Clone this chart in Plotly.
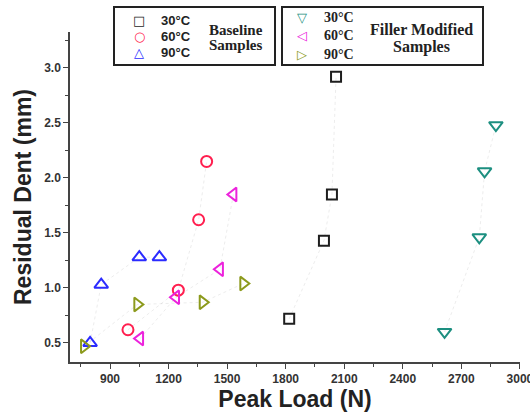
import plotly.graph_objects as go

# ---- data ----
base30_x = [1818, 1996, 2037, 2058]
base30_y = [0.72, 1.43, 1.85, 2.92]
base60_x = [992, 1250, 1354, 1395]
base60_y = [0.62, 0.98, 1.62, 2.15]
base90_x = [798, 855, 1050, 1153]
base90_y = [0.50, 1.03, 1.28, 1.28]
fill30_x = [2614, 2792, 2819, 2877]
fill30_y = [0.60, 1.46, 2.06, 2.48]
fill60_x = [1054, 1238, 1463, 1532]
fill60_y = [0.54, 0.915, 1.17, 1.85]
fill90_x = [767, 1040, 1375, 1583]
fill90_y = [0.47, 0.85, 0.87, 1.04]

x_ticks = [900, 1200, 1500, 1800, 2100, 2400, 2700, 3000]
y_ticks = [0.5, 1.0, 1.5, 2.0, 2.5, 3.0]

series = [
    (base30_x, base30_y, "square-open", "#1e1e1e", 10),
    (base60_x, base60_y, "circle-open", "#ff1f4f", 11),
    (base90_x, base90_y, "triangle-up-open", "#2b2bff", 12),
    (fill30_x, fill30_y, "triangle-down-open", "#1c8f80", 12),
    (fill60_x, fill60_y, "triangle-left-open", "#ec22dc", 12),
    (fill90_x, fill90_y, "triangle-right-open", "#8c9a1c", 12),
]

fig = go.Figure()
for xs, ys, sym, col, sz in series:
    fig.add_trace(go.Scatter(x=xs, y=ys, mode="lines",
                             line=dict(color="rgba(170,170,170,0.22)", width=1, dash="dot"),
                             hoverinfo="skip"))
for xs, ys, sym, col, sz in series:
    fig.add_trace(go.Scatter(x=xs, y=ys, mode="markers",
                             marker=dict(symbol=sym, size=sz, color=col,
                                         line=dict(color=col, width=2))))

L, R, T, B = 70, 10, 32, 58
W, H = 530, 420
PW, PH = W - L - R, H - T - B

def px(x):
    return (x - L) / PW

def py(y):
    return (H - B - y) / PH

# legend boxes
for x0, x1 in [(114, 275), (282, 483)]:
    fig.add_shape(type="rect", xref="paper", yref="paper",
                  x0=px(x0), x1=px(x1), y0=py(65), y1=py(7),
                  line=dict(color="#222", width=2), fillcolor="white", layer="above")

ann = []
sans = "Liberation Sans, Arial"
serif = "Liberation Serif, Times New Roman"
sym_font = "DejaVu Sans"
labels = ["30°C", "60°C", "90°C"]
# box 1
rows1 = [21, 37, 53]
glyphs1 = [("\u25a1", "#1e1e1e"), ("\u25cb", "#ff1f4f"), ("\u25b3", "#2b2bff")]
for i, ((g, c), yy) in enumerate(zip(glyphs1, rows1)):
    ann.append(dict(x=px(139), y=py(yy), text=g, font=dict(family=sym_font, size=13, color=c)))
    ann.append(dict(x=px(159), y=py(yy), text="<b>%s</b>" % labels[i],
                    xanchor="left", font=dict(family=sans, size=13, color="#222")))
ann.append(dict(x=px(236), y=py(30), text="<b>Baseline</b>", font=dict(family=serif, size=15, color="#222")))
ann.append(dict(x=px(236), y=py(45), text="<b>Samples</b>", font=dict(family=serif, size=15, color="#222")))
# box 2
rows2 = [17, 36, 54]
glyphs2 = [("\u25bd", "#1c8f80"), ("\u25c1", "#ec22dc"), ("\u25b7", "#8c9a1c")]
for i, ((g, c), yy) in enumerate(zip(glyphs2, rows2)):
    ann.append(dict(x=px(302), y=py(yy), text=g, font=dict(family=sym_font, size=13, color=c)))
    ann.append(dict(x=px(322), y=py(yy), text="<b>%s</b>" % labels[i],
                    xanchor="left", font=dict(family=serif, size=14, color="#222")))
ann.append(dict(x=px(421), y=py(29), text="<b>Filler Modified</b>", font=dict(family=serif, size=16, color="#222")))
ann.append(dict(x=px(421), y=py(47), text="<b>Samples</b>", font=dict(family=serif, size=16, color="#222")))
for a in ann:
    a.update(xref="paper", yref="paper", showarrow=False)
    a.setdefault("xanchor", "center")
    a["yanchor"] = "middle"

fig.update_layout(
    width=W, height=H,
    margin=dict(l=L, r=R, t=T, b=B, pad=0),
    paper_bgcolor="white", plot_bgcolor="white",
    showlegend=False,
    annotations=ann,
    font=dict(family=sans, color="#333"),
)
fig.update_xaxes(
    range=[695, 3000.5], tickvals=x_ticks, ticktext=["<b>%d</b>" % v for v in x_ticks],
    ticklabeloverflow="allow", automargin=False,
    showgrid=False, zeroline=False, showline=True, linecolor="#444", linewidth=1.5,
    ticks="outside", ticklen=5, tickwidth=1.2, tickcolor="#444",
    tickfont=dict(family=sans, size=12, color="#333"),
    minor=dict(tickvals=[750 + 300 * i for i in range(8)], ticks="outside", ticklen=3, tickcolor="#444", tickwidth=1),
    title=dict(text="<b>Peak Load (N)</b>", font=dict(family=sans, size=23, color="#222"), standoff=6),
)
fig.update_yaxes(
    range=[0.327, 3.327], tickvals=y_ticks, ticktext=["<b>%.1f</b>" % v for v in y_ticks],
    automargin=False,
    showgrid=False, zeroline=False, showline=True, linecolor="#444", linewidth=1.5,
    ticks="outside", ticklen=5, tickwidth=1.2, tickcolor="#444",
    tickfont=dict(family=sans, size=12, color="#333"),
    minor=dict(tickvals=[0.75 + 0.5 * i for i in range(6)], ticks="outside", ticklen=3, tickcolor="#444", tickwidth=1),
    title=dict(text="<b>Residual Dent (mm)</b>", font=dict(family=sans, size=23, color="#222"), standoff=6),
)

fig.write_html("out.html")
